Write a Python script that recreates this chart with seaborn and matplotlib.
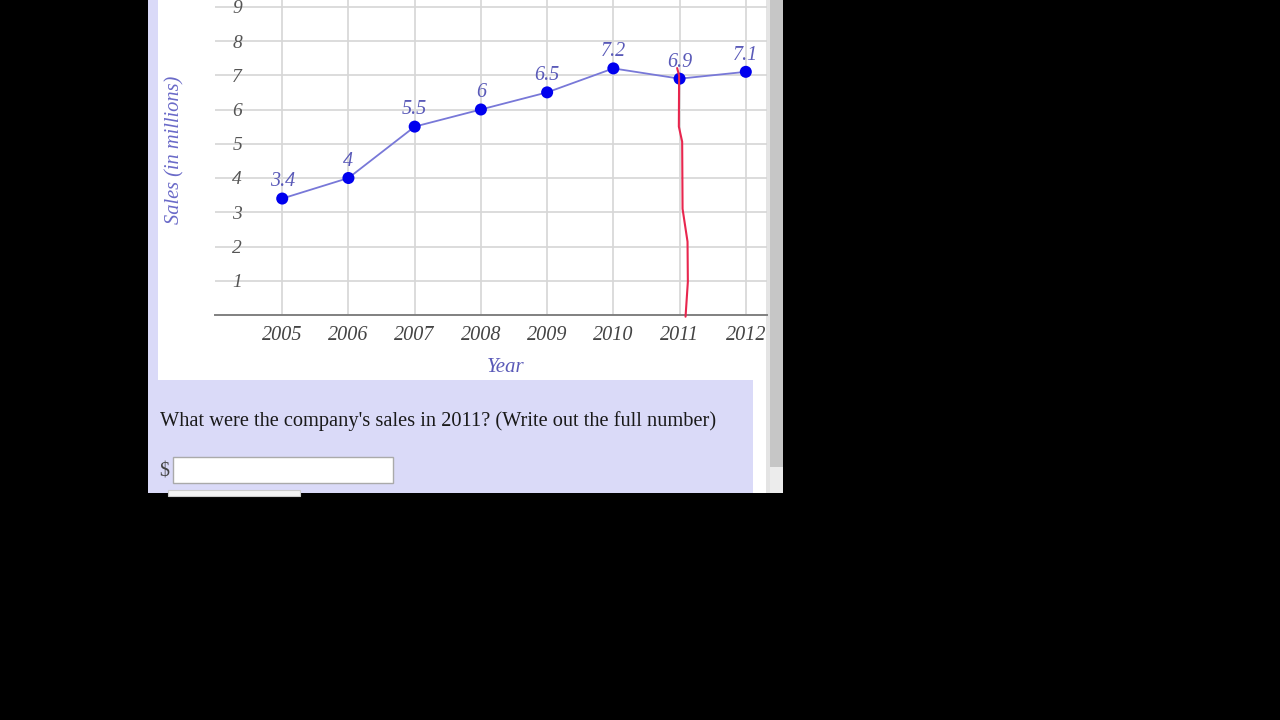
import matplotlib
matplotlib.use("Agg")
import matplotlib.pyplot as plt
from matplotlib.patches import Rectangle
import seaborn as sns
import pandas as pd

# ---- data ----
years = [2005, 2006, 2007, 2008, 2009, 2010, 2011, 2012]
sales = [3.4, 4, 5.5, 6, 6.5, 7.2, 6.9, 7.1]
y_ticks = [1, 2, 3, 4, 5, 6, 7, 8, 9]
# hand-drawn red pen stroke (data coordinates)
pen_x = [2010.963, 2010.993, 2010.989, 2011.039, 2011.045, 2011.12, 2011.125, 2011.09]
pen_y = [7.21, 6.99, 5.50, 5.06, 3.10, 2.14, 0.97, -0.05]
question = "What were the company's sales in 2011? (Write out the full number)"

sns.set_style("white")
plt.rcParams['font.family'] = ['Liberation Serif', 'DejaVu Serif']

W, H = 1280, 720
fig = plt.figure(figsize=(12.8, 7.2), dpi=100)
fig.patch.set_facecolor("black")


def px_rect(x0, y0, x1, y1, color, ec="none", lw=0, z=0):
    r = Rectangle((x0 / W, 1 - y1 / H), (x1 - x0) / W, (y1 - y0) / H,
                  transform=fig.transFigure, facecolor=color, edgecolor=ec,
                  linewidth=lw, zorder=z)
    fig.add_artist(r)


# page decorations
lav = "#dadaf8"
px_rect(148, 0, 783, 493, lav, z=-10)
px_rect(158, 0, 768, 380, "white", z=-9)
px_rect(753, 380, 768, 493, "white", z=-9)
px_rect(766, 0, 770, 493, "#e4e4e4", z=-8)
px_rect(770, 0, 783, 467, "#c6c6c6", z=-8)
px_rect(770, 467, 783, 493, "#ececec", z=-8)

# axes
ax_l, ax_r, ax_b = 215, 767, 315
ax = fig.add_axes([ax_l / W, 1 - ax_b / H, (ax_r - ax_l) / W, ax_b / H])
ax.set_facecolor("none")

df = pd.DataFrame({"Year": years, "Sales": sales})
sns.lineplot(data=df, x="Year", y="Sales", color="#7878d8", lw=1.3, ax=ax, zorder=3)
sns.scatterplot(data=df, x="Year", y="Sales", color="#0000ee", s=75,
                edgecolor="none", ax=ax, zorder=4)

for xv, yv in zip(years, sales):
    ax.annotate(f"{yv:g}", (xv, yv), xytext=(0, 12), textcoords="offset points",
                ha="center", va="center", fontsize=14.5, style="italic",
                color="#5a5ab8", zorder=5)

ax.plot(pen_x, pen_y, color="#e8264e", lw=1.5, zorder=6, clip_on=False)

ax.set_xlim(2003.985, 2012.32)
ax.set_ylim(0, 315 / 34.25)
ax.set_xticks(years)
ax.set_xticklabels([str(y) for y in years])
ax.set_yticks(y_ticks)
ax.set_yticklabels([str(v) for v in y_ticks])

ax.grid(True, color="#d6d6d6", lw=1.2)
ax.set_axisbelow(True)
for s in ["left", "right", "top"]:
    ax.spines[s].set_visible(False)
ax.spines["bottom"].set_color("#808080")
ax.spines["bottom"].set_linewidth(1.4)

ax.tick_params(axis="x", direction="out", length=4, width=1.2, color="#808080",
               pad=4, labelsize=14.5, labelcolor="#444444")
ax.tick_params(axis="y", length=0, pad=-19.5, labelsize=14, labelcolor="#555555")
for lab in ax.get_xticklabels() + ax.get_yticklabels():
    lab.set_style("italic")

ax.set_xlabel("Year", fontsize=15, style="italic", color="#5a5ab8")
ax.set_ylabel("Sales (in millions)", fontsize=14.7, style="italic", color="#6a6ac8")
ax.xaxis.set_label_coords((506 - ax_l) / (ax_r - ax_l), -(367 - ax_b) / ax_b)
ax.xaxis.label.set_va("center")
ax.yaxis.set_label_coords((175 - ax_l) / (ax_r - ax_l), 1 - 150 / ax_b)
ax.yaxis.label.set_va("center")

# question panel
px_rect(158, 380, 753, 493, lav, z=-9)
fig.text(160 / W, 1 - 421 / H, question, fontsize=14.7, color="#1a1a1a",
         va="center", ha="left")
fig.text(159 / W, 1 - 472 / H, "$", fontsize=14.5, color="#444444",
         va="center", ha="left")
px_rect(173, 457, 393, 483, "white", ec="#aaaaaa", lw=1, z=1)
px_rect(168, 490, 300, 496, "#f4f4f4", ec="#cccccc", lw=0.8, z=1)

fig.savefig("out.png", dpi=100, facecolor=fig.get_facecolor())
